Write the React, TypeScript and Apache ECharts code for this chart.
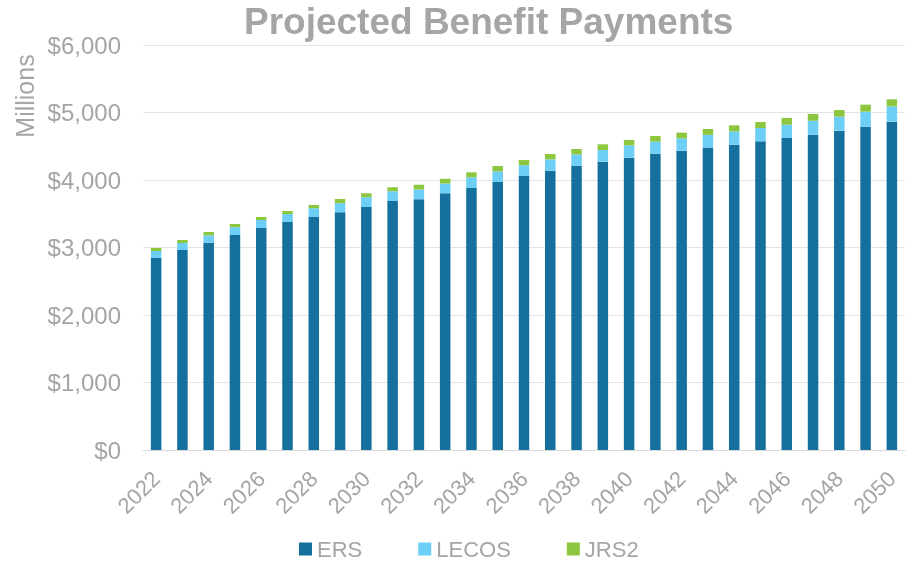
import React, { useEffect, useRef } from "react";
import * as echarts from "echarts";

const years = [
  "2022", "2023", "2024", "2025", "2026", "2027", "2028", "2029", "2030", "2031",
  "2032", "2033", "2034", "2035", "2036", "2037", "2038", "2039", "2040", "2041",
  "2042", "2043", "2044", "2045", "2046", "2047", "2048", "2049", "2050",
];
const ers = [
  2844, 2963, 3071, 3185, 3289, 3378, 3452, 3521, 3600, 3689,
  3713, 3802, 3881, 3970, 4059, 4138, 4212, 4272, 4331, 4390,
  4435, 4482, 4523, 4573, 4622, 4671, 4731, 4790, 4864,
];
const lecos = [
  104, 104, 109, 115, 118, 118, 130, 133, 143, 143,
  148, 148, 159, 158, 160, 168, 168, 172, 183, 178,
  182, 187, 198, 197, 198, 208, 207, 222, 227,
];
const jrs2 = [
  45, 44, 50, 48, 45, 45, 48, 65, 59, 59,
  70, 70, 74, 79, 76, 79, 79, 84, 79, 84,
  84, 87, 89, 89, 99, 99, 99, 104, 104,
];
const yTicks = [0, 1000, 2000, 3000, 4000, 5000, 6000];

const FONT = "Liberation Sans, Arial, sans-serif";
const GRAY = "#a5a5a5";

export default function App() {
  const ref = useRef<HTMLDivElement>(null);
  useEffect(() => {
    if (!ref.current) return;
    const chart = echarts.init(ref.current, undefined, { renderer: "svg" });
    const fmt = (v: number) => "$" + v.toLocaleString("en-US");
    chart.setOption({
      animation: false,
      textStyle: { fontFamily: FONT },
      title: {
        text: "Projected Benefit Payments",
        left: 244,
        top: 1,
        padding: 0,
        textStyle: { fontFamily: FONT, fontSize: 37, lineHeight: 40, fontWeight: "bold", color: GRAY },
      },
      graphic: [
        {
          type: "text",
          x: 25,
          y: 96,
          rotation: Math.PI / 2,
          style: {
            text: "Millions",
            fontFamily: FONT,
            fontSize: 25,
            fill: GRAY,
            textAlign: "center",
            textVerticalAlign: "middle",
          },
        },
      ],
      legend: {
        left: 299,
        top: 538,
        padding: 0,
        icon: "rect",
        itemWidth: 13,
        itemHeight: 13,
        itemGap: 56,
        textStyle: { fontFamily: FONT, fontSize: 22, color: GRAY },
        data: ["ERS", "LECOS", "JRS2"],
      },
      grid: { left: 143, right: 4, top: 45, bottom: 112, containLabel: false },
      xAxis: {
        type: "category",
        data: years,
        axisLine: { lineStyle: { color: "#d9d9d9", width: 1 } },
        axisTick: { show: false },
        axisLabel: {
          interval: 1,
          rotate: 45,
          fontFamily: FONT,
          fontSize: 22,
          color: GRAY,
          margin: 25,
        },
      },
      yAxis: {
        type: "value",
        min: yTicks[0],
        max: yTicks[yTicks.length - 1],
        interval: 1000,
        axisLine: { show: false },
        axisTick: { show: false },
        splitLine: { lineStyle: { color: "#e3e3e3", width: 1 } },
        axisLabel: {
          formatter: fmt,
          fontFamily: FONT,
          fontSize: 24,
          color: GRAY,
          margin: 22,
        },
      },
      series: [
        { name: "ERS", type: "bar", stack: "t", data: ers, barWidth: "40%", itemStyle: { color: "#15709d" } },
        { name: "LECOS", type: "bar", stack: "t", data: lecos, barWidth: "40%", itemStyle: { color: "#6dcff6" } },
        { name: "JRS2", type: "bar", stack: "t", data: jrs2, barWidth: "40%", itemStyle: { color: "#8dc63f" } },
      ],
    });
    return () => chart.dispose();
  }, []);
  return (
    <div
      ref={ref}
      style={{ position: "fixed", left: 0, top: 0, width: 909, height: 562 }}
    />
  );
}
